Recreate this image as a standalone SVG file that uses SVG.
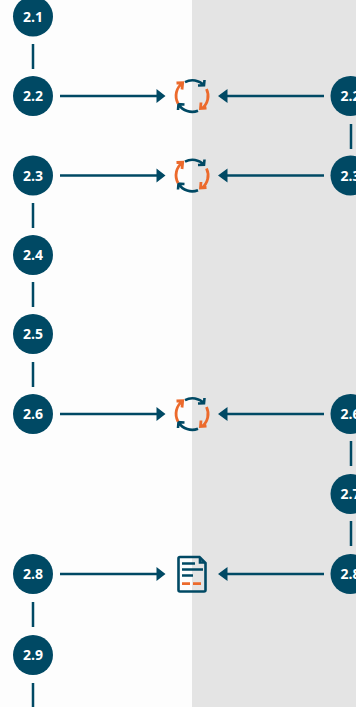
<svg xmlns="http://www.w3.org/2000/svg" width="356" height="707" viewBox="0 0 356 707">
<defs>
<style>
.n{fill:#004964}
.t{fill:#fff;font:700 14px "Open Sans",sans-serif;text-anchor:middle}
.l{stroke:#004964;stroke-width:2.5;fill:none}
.h{fill:#004964}
.b{stroke:#004964;stroke-width:2.6;fill:none}
.o{stroke:#ec6a2c;stroke-width:2.8;fill:none}
</style>
<g id="sync">
<path class="b" d="M-6.500-13.800A16 16 0 0 1 12.500-10.800M6.500-10.500L12.500-10.800L13-16"/>
<path class="o" d="M15-7A16 16 0 0 1 10.500 12.500M9.500 6.500L9 12.500L15 12"/>
<path class="b" d="M6.500 14.800A16 16 0 0 1-12.800 8.500M-7 8.500L-13 8.200L-13.500 14"/>
<path class="o" d="M-13.500 7.500A16 16 0 0 1-9-13M-9.500-6.500L-8.800-13.300L-15-13"/>
</g>
</defs>
<rect width="356" height="707" fill="#fdfdfd"/>
<rect x="192" width="164" height="707" fill="#e4e4e4"/>
<g id="connectors">
<path class="l" d="M33 44V69M33 203V228M33 282V307M33 362V387M33 602V627M33 683V707M351 124V149M351 441V466M351 521V546"/>
<path class="l" d="M60 96H158M60 175.500H158M60 414H158M60 574H158M324 96H226M324 175.500H226M324 414H226M324 574H226"/>
<path class="h" d="M165.500 96L156.500 89V103ZM165.500 175.500L156.500 168.500V182.500ZM165.500 414L156.500 407V421ZM165.500 574L156.500 567V581ZM218 96L227.500 89V103ZM218 175.500L227.500 168.500V182.500ZM218 414L227.500 407V421ZM218 574L227.500 567V581Z"/>
</g>
<g id="n2-1"><circle class="n" cx="33" cy="16.500" r="20"/><text class="t" x="33" y="21.500">2.1</text></g>
<g id="n2-2"><circle class="n" cx="33" cy="96" r="20"/><text class="t" x="33" y="101">2.2</text></g>
<g id="n2-3"><circle class="n" cx="33" cy="175.500" r="20"/><text class="t" x="33" y="180.500">2.3</text></g>
<g id="n2-4"><circle class="n" cx="33" cy="255" r="20"/><text class="t" x="33" y="260">2.4</text></g>
<g id="n2-5"><circle class="n" cx="33" cy="334" r="20"/><text class="t" x="33" y="339">2.5</text></g>
<g id="n2-6"><circle class="n" cx="33" cy="414" r="20"/><text class="t" x="33" y="419">2.6</text></g>
<g id="n2-8"><circle class="n" cx="33" cy="574" r="20"/><text class="t" x="33" y="579">2.8</text></g>
<g id="n2-9"><circle class="n" cx="33" cy="655" r="20"/><text class="t" x="33" y="660">2.9</text></g>
<g id="r2-2"><circle class="n" cx="350.500" cy="96" r="20"/><text class="t" x="350.500" y="101">2.2</text></g>
<g id="r2-3"><circle class="n" cx="350.500" cy="175.500" r="20"/><text class="t" x="350.500" y="180.500">2.3</text></g>
<g id="r2-6"><circle class="n" cx="350.500" cy="414" r="20"/><text class="t" x="350.500" y="419">2.6</text></g>
<g id="r2-7"><circle class="n" cx="350.500" cy="494" r="20"/><text class="t" x="350.500" y="499">2.7</text></g>
<g id="r2-8"><circle class="n" cx="350.500" cy="574" r="20"/><text class="t" x="350.500" y="579">2.8</text></g>
<g id="sync1"><use href="#sync" x="191.500" y="96"/></g>
<g id="sync2"><use href="#sync" x="191.500" y="175.500"/></g>
<g id="sync3"><use href="#sync" x="191.500" y="414"/></g>
<g id="doc">
<path class="b" d="M199.500 557H180a1.500 1.500 0 0 0-1.500 1.500V590a1.500 1.500 0 0 0 1.500 1.500H204a1.500 1.500 0 0 0 1.500-1.500V563Z"/>
<path class="b" d="M200 557.500V562.500H205"/>
<path class="l" d="M182 563.500H195M182 569.500H203M182 575.500H193"/>
<path class="o" d="M182 583.700H190M193 583.700H201"/>
</g>
</svg>
